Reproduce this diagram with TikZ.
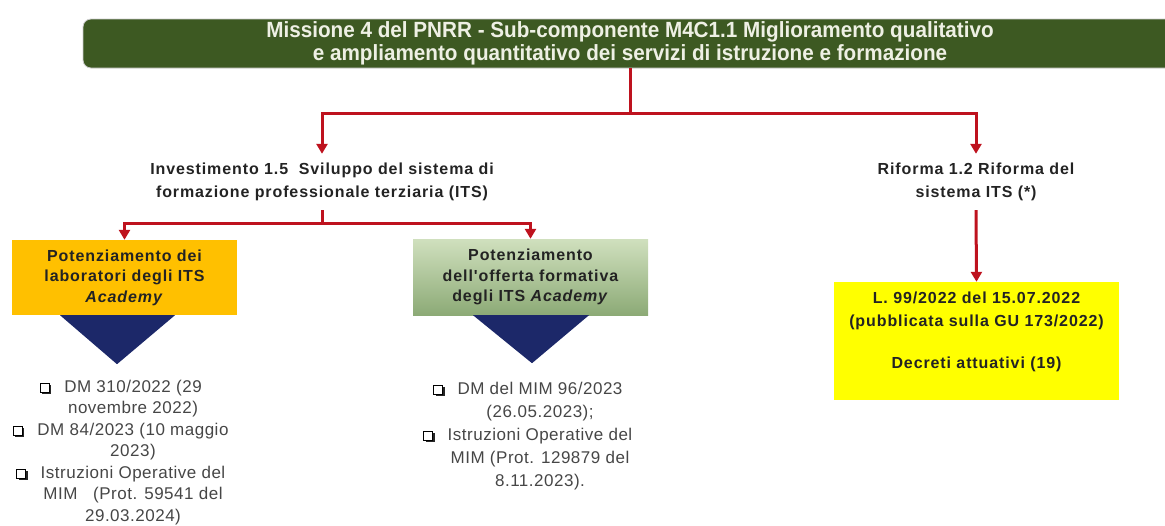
\documentclass[tikz,border=0pt]{standalone}
\usepackage{fontspec}
\setmainfont{Liberation Sans}
\newfontfamily\titlefont{Liberation Sans}[FakeStretch=0.94]
\newfontfamily\lblfont{Liberation Sans}[LetterSpace=5.6]
\newfontfamily\lstfont{Liberation Sans}[LetterSpace=3]
\usetikzlibrary{arrows.meta,calc}
\definecolor{barGreen}{RGB}{61,89,34}
\definecolor{barText}{RGB}{238,240,228}
\definecolor{connRed}{RGB}{190,18,30}
\definecolor{boxOrange}{RGB}{255,192,0}
\definecolor{boxGreenTop}{RGB}{208,224,190}
\definecolor{boxGreenBot}{RGB}{140,170,118}
\definecolor{triNavy}{RGB}{28,40,105}
\definecolor{boxYellow}{RGB}{255,255,0}
\definecolor{lblText}{RGB}{35,35,35}
\definecolor{lstText}{RGB}{70,70,70}
\newcommand\qbox{\tikz[x=1pt,y=1pt,baseline=-0.5pt]{\fill[black!85](2,-2) rectangle (11,7);\draw[black,line width=0.8pt,fill=white](0,0) rectangle (9,9);}}
\newcommand\qb{\leavevmode\llap{\qbox\hspace{13pt}}}
\begin{document}
\begin{tikzpicture}[x=1pt,y=-1pt,
  conn/.style={draw=connRed,line width=3pt},
  connarrow/.style={conn,-{Triangle[width=11pt,length=10pt]}},
  titlebar/.style={fill=barGreen,draw=gray!40,line width=0.8pt,rounded corners=8pt,
    minimum width=1094pt,minimum height=49pt,inner sep=0pt,align=center,text=barText,
    font=\titlefont\bfseries\fontsize{22}{23}\selectfont},
  lbl/.style={inner sep=0pt,align=center,text=lblText,
    font=\lblfont\bfseries\fontsize{16}{23}\selectfont},
  boxlbl/.style={inner sep=0pt,align=center,text=lblText,
    font=\lblfont\bfseries\fontsize{16}{20.5}\selectfont},
  lst/.style={inner sep=0pt,align=center,text=lstText,font=\lstfont\fontsize{17}{21.5}\selectfont},
  tri/.style={fill=triNavy}]
\useasboundingbox (0,0) rectangle (1165,525);
% title
\node[titlebar] (title) at (630,43.5) {Missione 4 del PNRR - Sub-componente M4C1.1 Miglioramento qualitativo\\e ampliamento quantitativo dei servizi di istruzione e formazione};
% second level
\node[lbl,minimum height=56pt] (inv) at (322,182) {Investimento 1.5\ \ Sviluppo del sistema di\\formazione professionale terziaria (ITS)};
\node[lbl,minimum height=56pt] (rif) at (976,182) {Riforma 1.2 Riforma del\\sistema ITS (*)};
% boxes
\node[boxlbl,fill=boxOrange,minimum width=225pt,minimum height=75pt] (lab) at (124.5,277.5) {Potenziamento dei\\laboratori degli ITS\\\textit{Academy}};
\node[boxlbl,top color=boxGreenTop,bottom color=boxGreenBot,minimum width=235pt,minimum height=76pt] (off) at (530.5,277) {Potenziamento\\dell'offerta formativa\\degli ITS \textit{Academy}};
\node[fill=boxYellow,minimum width=285pt,minimum height=118pt,inner sep=0pt] (law) at (976.5,341) {};
\node[lbl] (lawtxt) at ($(law.center)+(0,-9.5)$) {L. 99/2022 del 15.07.2022\\(pubblicata sulla GU 173/2022)\\[19pt]Decreti attuativi (19)};
% connectors
\coordinate (j1) at ($(title.south)+(0,45)$);
\draw[conn] (title.south) -- (j1);
\draw[connarrow] (j1) -| (inv.north);
\draw[connarrow] (j1) -| (rif.north);
\coordinate (j2) at ($(inv.south)+(0,13)$);
\draw[conn] (inv.south) -- (j2);
\draw[connarrow] (j2) -| (lab.north);
\draw[connarrow] (j2) -| (off.north);
\draw[connarrow] (rif.south) -- (law.north);
% triangles
\fill[tri] ($(lab.south)+(-64.5,0)$) -- ($(lab.south)+(50.5,0)$) -- ($(lab.south)+(-7.5,49)$) -- cycle;
\fill[tri] ($(off.south)+(-57.5,0)$) -- ($(off.south)+(58.5,0)$) -- ($(off.south)+(1.5,48)$) -- cycle;
% lists
\node[lst] (list1) at (133,452.5) {\qb DM 310/2022 (29\\novembre 2022)\\\qb DM 84/2023 (10 maggio\\2023)\\\qb Istruzioni Operative del\\MIM\ \ \ (Prot. 59541 del\\29.03.2024)};
\node[lst,font=\lstfont\fontsize{17}{23}\selectfont] (list2) at (540,436) {\qb DM del MIM 96/2023\\(26.05.2023);\\\qb Istruzioni Operative del\\MIM (Prot. 129879 del\\8.11.2023).};
\end{tikzpicture}
\end{document}
